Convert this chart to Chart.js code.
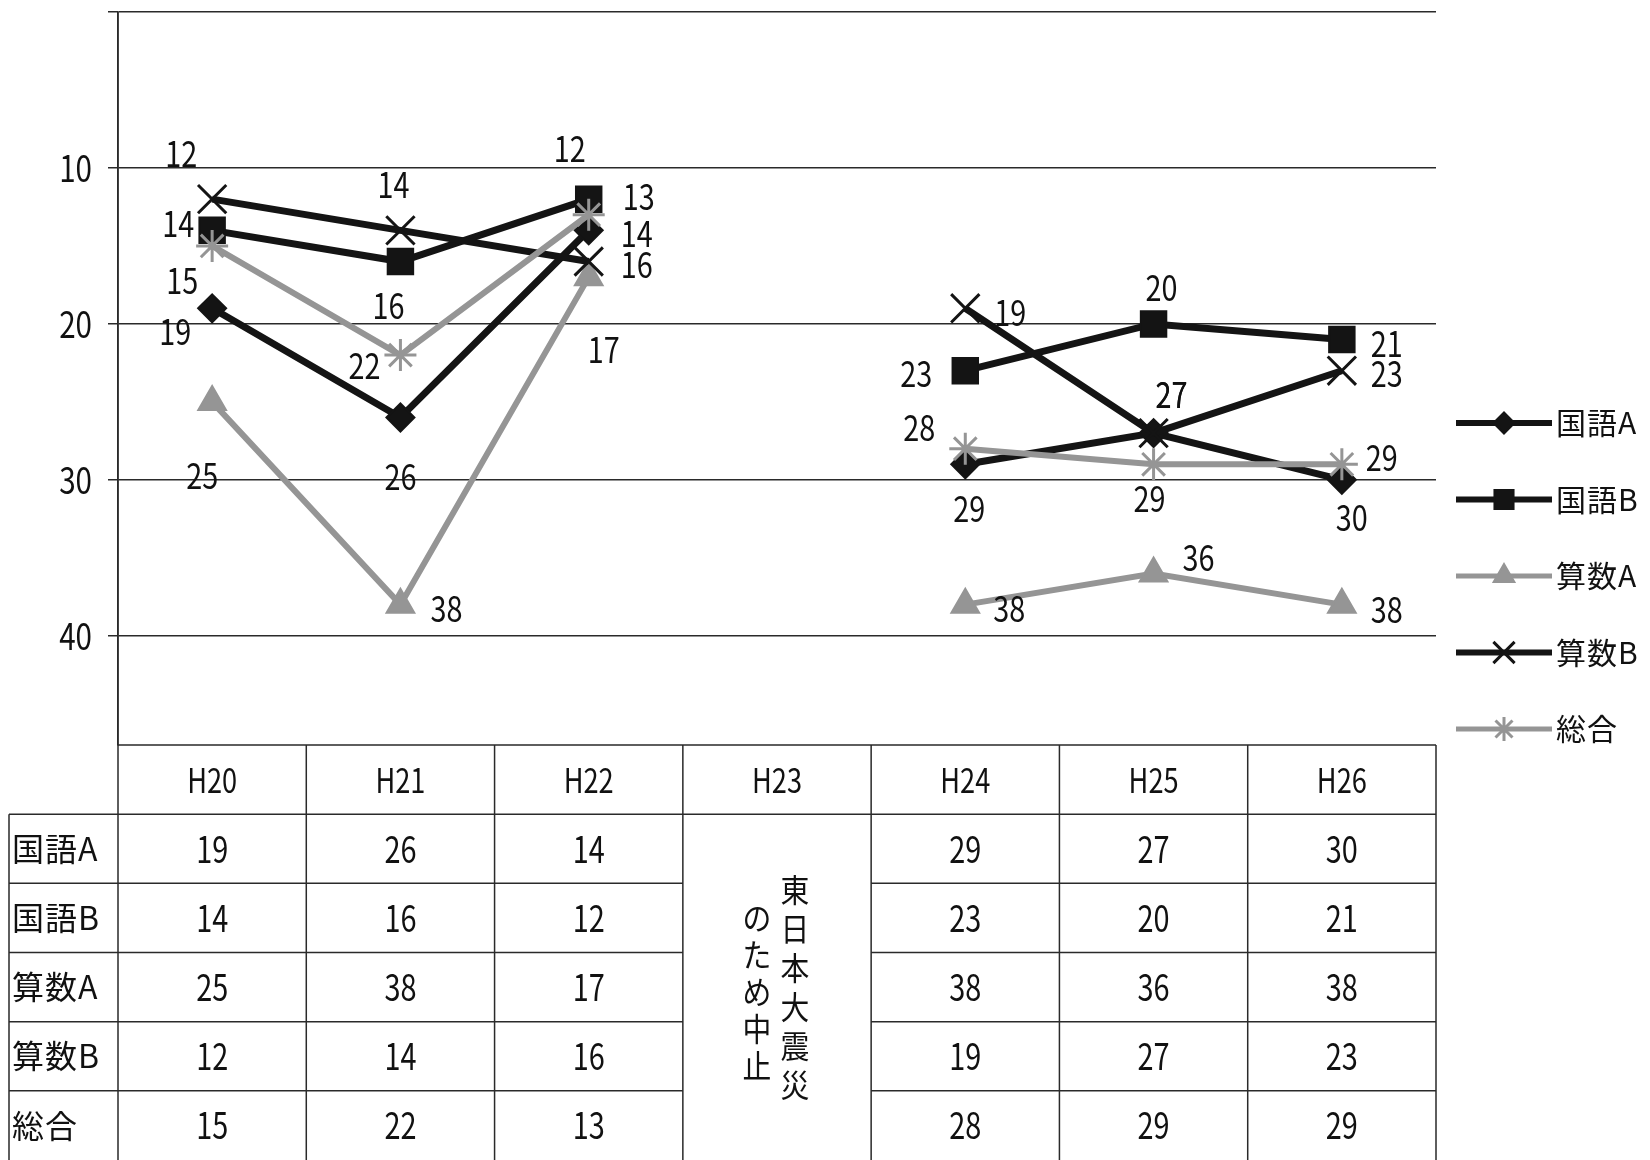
<!doctype html>
<html lang="ja">
<head>
<meta charset="utf-8">
<title>学力調査 順位の推移</title>
<script src="https://cdn.jsdelivr.net/npm/chart.js@4.4.0/dist/chart.umd.min.js"></script>
<style>
  html, body { margin: 0; padding: 0; background: #fff; }
  #wrap { width: 1650px; height: 1160px; }
</style>
</head>
<body>
<div id="wrap"><canvas id="rankChart" width="1650" height="1160"></canvas></div>
<script>
// data
const years = ['H20', 'H21', 'H22', 'H23', 'H24', 'H25', 'H26'];
const seriesNames = ['国語A', '国語B', '算数A', '算数B', '総合'];
const kokugoA = [19, 26, 14, null, 29, 27, 30];
const kokugoB = [14, 16, 12, null, 23, 20, 21];
const sansuA  = [25, 38, 17, null, 38, 36, 38];
const sansuB  = [12, 14, 16, null, 19, 27, 23];
const sogo    = [15, 22, 13, null, 28, 29, 29];
const yTicks = [0, 10, 20, 30, 40];
const noteRight = '東日本大震災';   // H23 column
const noteLeft = 'のため中止';

// where each data label sits relative to its point (px)
const labelOffsets = [
    [[-37, 23], [0, 59], [48, 3], null, [4, 44], [18, -39], [10, 37]],
    [[-34, -7], [-12, 44], [-19, -51], null, [-49, 3], [8, -37], [45, 4]],
    [[-10, 73], [46, 4], [15, 72], null, [44, 4], [45, -16], [45, 5]],
    [[-31, -46], [-7, -46], [48, 3], null, [45, 4], [18, -39], [45, 3]],
    [[-30, 34], [-36, 10], [50, -18], null, [-46, -21], [-4, 34], [40, -7]]
];

const black = '#141414';
const gray = '#959595';
const FONT = '"Noto Sans CJK JP", "Noto Sans", sans-serif';

let drawText = (ctx, text, x, y, size, align, sx) => {
    ctx.save();
    ctx.translate(x, y);
    ctx.scale(sx, 1);
    ctx.font = size + 'px ' + FONT;
    ctx.textAlign = align;
    ctx.textBaseline = 'middle';
    ctx.fillStyle = '#111';
    ctx.fillText(text, 0, 0);
    ctx.restore();
};

// draws a label one character at a time with a fixed pitch
let drawSpaced = (ctx, text, x, y, size, pitch) => {
    [...text].forEach((ch, i) => drawText(ctx, ch, x + i * pitch, y, size, 'left', 1));
};

let mkSet = (name, data, color, style, radius, width, order, pbw) => ({
    label: name,
    data: data,
    borderColor: color,
    backgroundColor: color,
    borderWidth: width,
    pointStyle: style,
    pointRadius: radius,
    pointBorderWidth: pbw,
    pointBorderColor: color,
    pointBackgroundColor: color,
    tension: 0,
    spanGaps: false,
    order: order
});

const datasets = [
    mkSet(seriesNames[0], kokugoA, black, 'rectRot', 14, 7, 5, 2),
    mkSet(seriesNames[1], kokugoB, black, 'rect', 18, 7, 4, 2),
    mkSet(seriesNames[2], sansuA, gray, 'triangle', 16, 6, 3, 2),
    mkSet(seriesNames[3], sansuB, black, 'crossRot', 20, 7, 2, 3),
    mkSet(seriesNames[4], sogo, gray, 'star', 16, 6, 1, 3)
];

const decor = {
    id: 'decor',
    afterDatasetsDraw(chart) {
        const ctx = chart.ctx;
        // data labels
        chart.data.datasets.forEach((ds, di) => {
            const meta = chart.getDatasetMeta(di);
            meta.data.forEach((pt, i) => {
                const v = ds.data[i];
                const off = labelOffsets[di][i];
                if (v == null || !off) return;
                drawText(ctx, String(v), pt.x + off[0], pt.y + off[1], 36, 'center', 0.8);
            });
        });
    },
    afterDraw(chart) {
        const ctx = chart.ctx;
        const xs = chart.scales.x, ys = chart.scales.y;

        // y tick labels (0 hidden)
        yTicks.forEach(v => {
            if (v === 0) return;
            drawText(ctx, String(v), 92, ys.getPixelForValue(v), 37, 'right', 0.8);
        });

        // data table
        const colW = xs.width / years.length;
        const top = chart.chartArea.bottom;
        const rowH = (chart.height - top) / 6;
        const leftEdge = 9;
        const gapL = xs.left + 3 * colW, gapR = xs.left + 4 * colW;
        ctx.save();
        ctx.strokeStyle = '#2a2a2a';
        ctx.lineWidth = 1.5;
        ctx.beginPath();
        ctx.moveTo(xs.left, top); ctx.lineTo(xs.right, top);
        for (let k = 1; k <= 5; k++) {
            const y = top + k * rowH;
            ctx.moveTo(leftEdge, y);
            if (k === 1) {
                ctx.lineTo(xs.right, y);
            } else {
                ctx.lineTo(gapL, y);
                ctx.moveTo(gapR, y); ctx.lineTo(xs.right, y);
            }
        }
        ctx.moveTo(leftEdge, top + rowH); ctx.lineTo(leftEdge, chart.height);
        for (let j = 0; j <= years.length; j++) {
            const x = xs.left + j * colW;
            ctx.moveTo(x, j === 0 ? chart.chartArea.top : top); ctx.lineTo(x, chart.height);
        }
        ctx.stroke();
        ctx.restore();

        years.forEach((yr, i) => {
            drawText(ctx, yr, xs.getPixelForValue(i), top + rowH / 2, 34, 'center', 0.8);
        });
        chart.data.datasets.forEach((ds, di) => {
            const cy = top + (di + 1.5) * rowH;
            drawSpaced(ctx, ds.label, 12, cy, 32, 33);
            ds.data.forEach((v, i) => {
                if (v == null) return;
                drawText(ctx, String(v), xs.getPixelForValue(i), cy, 37, 'center', 0.78);
            });
        });

        // vertical note in the H23 column
        const cx = xs.getPixelForValue(3);
        const bodyMid = top + rowH + 2.5 * rowH;
        [...noteRight].forEach((ch, i) => {
            drawText(ctx, ch, cx + 18, bodyMid + (i - 2.5) * 39, 32, 'center', 0.9);
        });
        [...noteLeft].forEach((ch, i) => {
            drawText(ctx, ch, cx - 20, bodyMid + 5 + (i - 2) * 37, 32, 'center', 0.9);
        });

        // legend
        chart.data.datasets.forEach((ds, di) => {
            const y = 423 + di * 76.5;
            ctx.save();
            ctx.strokeStyle = ds.borderColor;
            ctx.fillStyle = ds.borderColor;
            ctx.lineWidth = ds.borderWidth - 1;
            ctx.beginPath();
            ctx.moveTo(1456, y); ctx.lineTo(1552, y);
            ctx.stroke();
            ctx.lineWidth = ds.pointBorderWidth;
            Chart.helpers.drawPoint(ctx, {
                pointStyle: ds.pointStyle,
                radius: ds.pointRadius * 0.75,
                rotation: 0,
                borderWidth: ds.pointBorderWidth
            }, 1504, y);
            ctx.restore();
            drawSpaced(ctx, ds.label, 1556, y, 30, 31);
        });
    }
};

new Chart(document.getElementById('rankChart'), {
    type: 'line',
    data: { labels: years, datasets: datasets },
    options: {
        responsive: false,
        animation: false,
        layout: { autoPadding: false, padding: { top: 12, right: 214, bottom: 415, left: 0 } },
        plugins: { legend: { display: false }, tooltip: { enabled: false } },
        scales: {
            x: {
                offset: true,
                grid: { display: false },
                border: { display: false },
                ticks: { display: false },
                afterFit: s => { s.height = 0; }
            },
            y: {
                reverse: true,
                min: 0,
                max: 47,
                afterBuildTicks: s => { s.ticks = yTicks.map(v => ({ value: v })); },
                afterFit: s => { s.width = 118; },
                ticks: { display: false },
                grid: { color: '#2a2a2a', lineWidth: 1.5, tickLength: 10, drawTicks: true },
                border: { display: true, color: '#2a2a2a', width: 1.5 }
            }
        }
    },
    plugins: [decor]
});
</script>
</body>
</html>
